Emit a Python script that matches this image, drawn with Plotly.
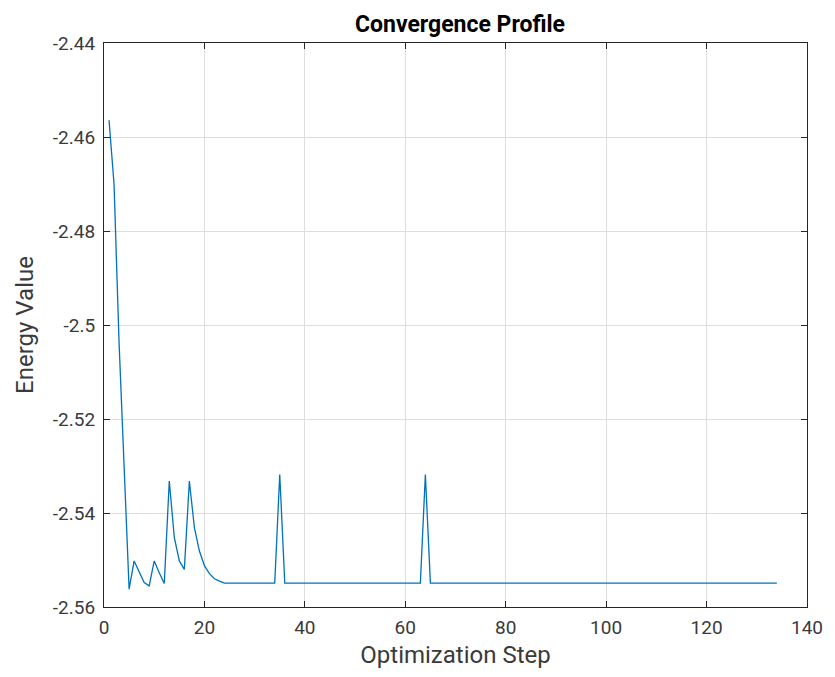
import plotly.graph_objects as go

steps = list(range(1, 135))

early_values = [
    -2.4564, -2.4700, -2.5037, -2.5299, -2.5562,   # 1-5
    -2.5502, -2.5525, -2.5548, -2.5555, -2.5502,   # 6-10
    -2.5527, -2.5550, -2.5332, -2.5452, -2.5502,   # 11-15
    -2.5520, -2.5332, -2.5431, -2.5481, -2.5512,   # 16-20
    -2.5529, -2.5540, -2.5545, -2.5549,            # 21-24
]
plateau_value = -2.5549
spike_steps = [35, 64]
spike_values = [-2.5318, -2.5318]

energy = []
for s in steps:
    if s <= len(early_values):
        energy.append(early_values[s - 1])
    elif s in spike_steps:
        energy.append(spike_values[spike_steps.index(s)])
    else:
        energy.append(plateau_value)

x_ticks = [0, 20, 40, 60, 80, 100, 120, 140]
y_ticks = [-2.56, -2.54, -2.52, -2.5, -2.48, -2.46, -2.44]
y_tick_text = ["-2.56", "-2.54", "-2.52", "-2.5", "-2.48", "-2.46", "-2.44"]

fig = go.Figure()
fig.add_trace(go.Scatter(x=steps, y=energy, mode="lines",
                         line=dict(color="#0072BD", width=1.3),
                         showlegend=False))

axis_common = dict(
    showline=True, linecolor="#262626", linewidth=1.2, mirror="ticks",
    ticks="inside", ticklen=6, tickcolor="#262626", tickwidth=1,
    showgrid=True, gridcolor="#dedede", gridwidth=1, zeroline=False,
    tickfont=dict(family="Roboto", size=19, color="#3a3a3a"),
)

fig.update_layout(
    width=835, height=677,
    paper_bgcolor="white", plot_bgcolor="white",
    margin=dict(l=104, r=19, t=43, b=70),
    title=dict(text="<b>Convergence Profile</b>", x=460 / 835, xanchor="center",
               y=1 - 24 / 677, yanchor="middle",
               font=dict(family="Roboto", size=23, color="#000000")),
    xaxis=dict(range=[0, 140], tickvals=x_ticks, ticklabelstandoff=3,
               title=dict(text="Optimization Step", standoff=8,
                          font=dict(family="Roboto", size=24, color="#3a3a3a")),
               **axis_common),
    yaxis=dict(range=[-2.56, -2.44], tickvals=y_ticks, ticktext=y_tick_text,
               ticklabelstandoff=4,
               title=dict(text="Energy Value", standoff=12,
                          font=dict(family="Roboto", size=24, color="#3a3a3a")),
               **axis_common),
)

fig.write_html("out.html")
